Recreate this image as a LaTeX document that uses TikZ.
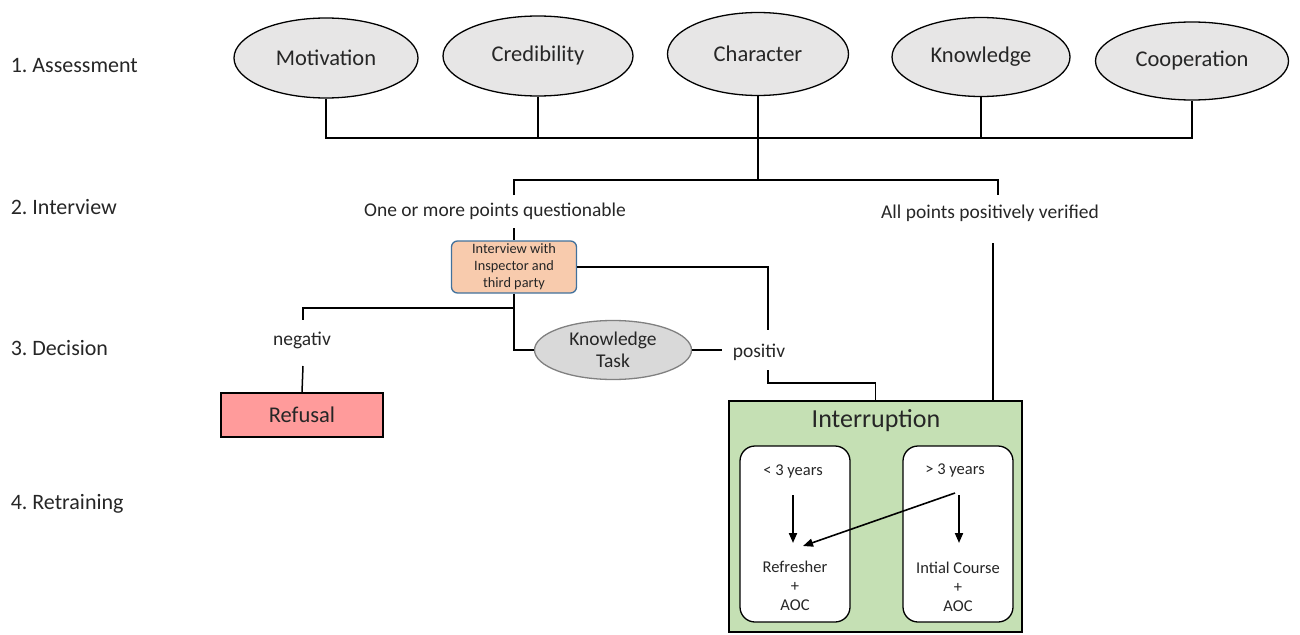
\documentclass[tikz,border=0pt]{standalone}
\usepackage{fontspec}
\setmainfont{Carlito}
\usetikzlibrary{shapes.geometric,arrows.meta}
\definecolor{ovalfill}{HTML}{E7E6E6}
\definecolor{peach}{HTML}{F8CBAD}
\definecolor{peachedge}{HTML}{41719C}
\definecolor{refred}{HTML}{FF9B9B}
\definecolor{ktfill}{HTML}{D9D9D9}
\definecolor{ktedge}{HTML}{808080}
\definecolor{green}{HTML}{C5E0B4}
\definecolor{txtc}{HTML}{262626}
\begin{document}
\begin{tikzpicture}[x=1pt,y=-1pt,line width=1.5pt,
  oval/.style={ellipse,draw,fill=ovalfill,line width=1.3pt,inner sep=0pt,font=\fontsize{22.5}{26}\selectfont,text=txtc},
  lbl/.style={anchor=west,inner sep=0pt,font=\fontsize{22}{26}\selectfont,text=txtc},
  txt/.style={font=\fontsize{19.5}{22}\selectfont,text=txtc},
  small/.style={font=\fontsize{16.5}{19}\selectfont,text=txtc,align=center},
  arr/.style={-{Triangle[length=10pt,width=8pt]},line width=2pt},
  innerbox/.style={draw,fill=white,rounded corners=15pt,minimum width=110pt,minimum height=176pt,line width=1.3pt}]
\useasboundingbox (0,0) rectangle (1300,634);

% left labels
\node[lbl] (l1) at (10,66) {1.\ Assessment};
\node[lbl] (l2) at (10,207) {2.\ Interview};
\node[lbl] (l3) at (10,348) {3.\ Decision};
\node[lbl] (l4) at (10,504) {4.\ Retraining};

% assessment ovals
\node[oval,minimum width=184pt,minimum height=80pt] (mot) at (326,58) {Motivation};
\node[oval,minimum width=190pt,minimum height=80pt] (cred) at (538,56) {Credibility};
\node[oval,minimum width=181pt,minimum height=83pt] (char) at (758,54) {Character};
\node[oval,minimum width=178pt,minimum height=79pt] (know) at (981,57) {Knowledge};
\node[oval,minimum width=193pt,minimum height=78pt] (coop) at (1192,61) {Cooperation};

\coordinate (h1) at (0,138);
\coordinate (h2) at (0,180);
\draw (mot.south) -- (mot.south |- h1) -- (coop.south |- h1) -- (coop.south);
\draw (cred.south) -- (cred.south |- h1);
\draw (know.south) -- (know.south |- h1);
\draw (char.south) -- (char.south |- h2);

% interview
\node[txt] (q) at (495,211) {One or more points questionable};
\node[txt] (a) at (990,213) {All points positively verified};
\coordinate (qtop) at (514,195);
\coordinate (atop) at (998,195);
\draw (qtop) |- (char.south |- h2) -| (atop);

\node[draw=peachedge,fill=peach,rounded corners=6pt,line width=1.3pt,minimum width=125pt,minimum height=52pt,inner sep=1pt,align=center,font=\fontsize{14.3}{17}\selectfont,text=txtc] (iv) at (514,267) {Interview with\\Inspector and\\third party};
\coordinate (qbot) at (514,228);
\draw (qbot) -- (iv.north);

% decision
\node[txt] (neg) at (302,340) {negativ};
\node[txt] (pos) at (759,352) {positiv};
\node[draw,fill=refred,minimum width=162pt,minimum height=44pt,inner sep=0pt,font=\fontsize{22.5}{26}\selectfont,text=txtc] (ref) at (302,415) {Refusal};
\node[ellipse,draw=ktedge,fill=ktfill,line width=1.3pt,minimum width=157pt,minimum height=59pt,inner sep=0pt,align=center,font=\fontsize{19.5}{22}\selectfont,text=txtc] (kt) at (613,350) {Knowledge\\Task};

\coordinate (split) at (514,308);
\coordinate (negtop) at (303,320);
\coordinate (negbot) at (303,366);
\draw (iv.south) -- (split) -| (negtop);
\draw (negbot) -- (ref.north);
\draw (split) |- (kt.west);
\coordinate (ktend) at (722,350);
\draw (kt.east) -- (ktend);

\coordinate (p1) at (768,330);
\coordinate (p2) at (768,370);
\draw (iv.east) -| (p1);

% interruption
\node[draw,fill=green,minimum width=293pt,minimum height=231pt,inner sep=0pt] (intr) at (875.5,516.5) {};
\node[font=\fontsize{26}{30}\selectfont,text=txtc] (title) at (876,421) {Interruption};
\coordinate (p3) at (768,383);
\draw (p2) -- (p3) -| (intr.north);
\coordinate (ap) at (993,243);
\draw (ap) -- (ap |- intr.north);

\node[innerbox] (lb) at (795,534) {};
\node[innerbox] (rb) at (958,534) {};
\node[small] (lt3) at (793,471) {< 3 years};
\node[small] (gt3) at (955,470) {> 3 years};
\node[small] (rf) at (795,586) {Refresher\\+\\AOC};
\node[small] (ic) at (958,587) {Intial Course\\+\\AOC};

\coordinate (a1s) at (793,495);
\coordinate (a1e) at (793,543);
\coordinate (a2s) at (959,495);
\coordinate (a2e) at (959,543);
\coordinate (d1) at (955,493);
\coordinate (d2) at (803,546);
\draw[arr] (a1s) -- (a1e);
\draw[arr] (a2s) -- (a2e);
\draw[arr,line width=1.6pt] (d1) -- (d2);
\end{tikzpicture}
\end{document}
